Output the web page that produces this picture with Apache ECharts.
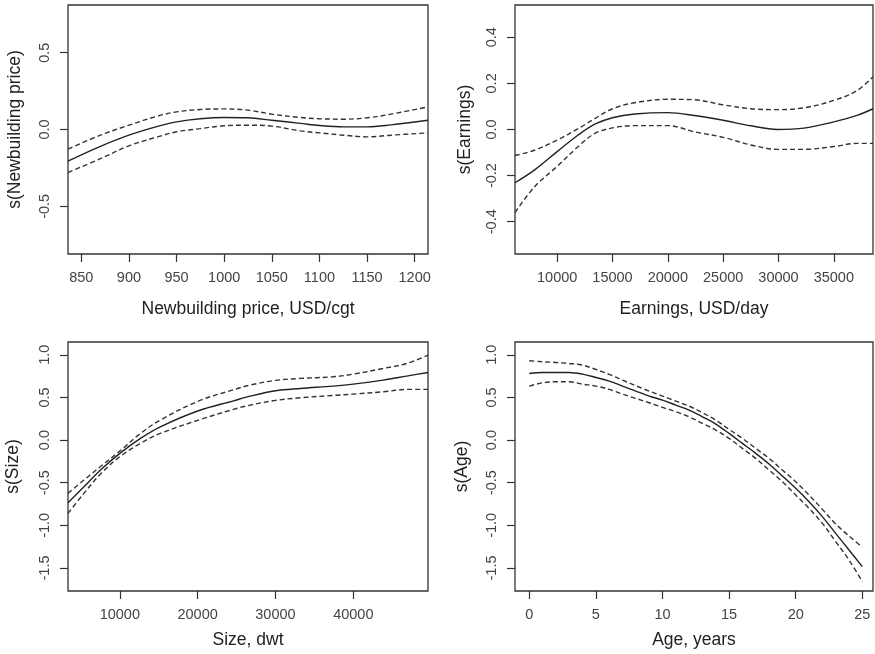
<!DOCTYPE html>
<html>
<head>
<meta charset="utf-8">
<script src="https://cdn.jsdelivr.net/npm/echarts@6/dist/echarts.min.js"></script>
<style>
html,body{margin:0;padding:0;background:#fff;}
#chart{width:875px;height:654px;}
</style>
</head>
<body>
<div id="chart"></div>
<script>
// ---- Panel 1: Newbuilding price ----
const priceX     = [836, 870, 900, 930, 950, 975, 1000, 1025, 1050, 1080, 1100, 1125, 1150, 1175, 1214];
const priceFit   = [-0.206, -0.11, -0.037, 0.02, 0.05, 0.07, 0.078, 0.076, 0.06, 0.04, 0.026, 0.017, 0.017, 0.03, 0.06];
const priceUpper = [-0.128, -0.037, 0.028, 0.087, 0.115, 0.13, 0.134, 0.126, 0.10, 0.078, 0.07, 0.067, 0.076, 0.10, 0.147];
const priceLower = [-0.28, -0.19, -0.106, -0.048, -0.015, 0.006, 0.024, 0.028, 0.022, -0.009, -0.022, -0.037, -0.048, -0.037, -0.022];
const priceXTicks = [850, 900, 950, 1000, 1050, 1100, 1150, 1200];
const priceYTicks = [-0.5, 0, 0.5];

// ---- Panel 2: Earnings ----
const earnX     = [6190, 8000, 10000, 11900, 13400, 15000, 17000, 20000, 22400, 25000, 27500, 29900, 32300, 35000, 37100, 38540];
const earnFit   = [-0.231, -0.174, -0.096, -0.024, 0.023, 0.051, 0.067, 0.073, 0.061, 0.04, 0.016, 0.0, 0.006, 0.033, 0.061, 0.09];
const earnUpper = [-0.113, -0.089, -0.046, 0.004, 0.047, 0.09, 0.116, 0.131, 0.129, 0.107, 0.09, 0.086, 0.094, 0.126, 0.169, 0.229];
const earnLower = [-0.36, -0.246, -0.16, -0.074, -0.017, 0.007, 0.017, 0.017, -0.01, -0.034, -0.067, -0.086, -0.086, -0.074, -0.06, -0.06];
const earnXTicks = [10000, 15000, 20000, 25000, 30000, 35000];
const earnYTicks = [-0.4, -0.2, 0, 0.2, 0.4];

// ---- Panel 3: Size ----
const sizeX     = [3340, 5385, 7520, 10000, 12650, 15200, 20100, 24600, 26750, 30000, 33200, 37400, 40000, 43850, 46850, 49600];
const sizeFit   = [-0.734, -0.547, -0.35, -0.156, 0.02, 0.156, 0.344, 0.46, 0.515, 0.578, 0.605, 0.633, 0.656, 0.703, 0.75, 0.793];
const sizeUpper = [-0.625, -0.469, -0.31, -0.129, 0.078, 0.234, 0.457, 0.59, 0.645, 0.70, 0.723, 0.742, 0.773, 0.84, 0.898, 0.996];
const sizeLower = [-0.86, -0.625, -0.398, -0.195, -0.039, 0.078, 0.234, 0.36, 0.41, 0.465, 0.496, 0.523, 0.539, 0.566, 0.594, 0.594];
const sizeXTicks = [10000, 20000, 30000, 40000];
const sizeYTicks = [-1.5, -1, -0.5, 0, 0.5, 1];

// ---- Panel 4: Age ----
const ageX     = [0, 1, 2, 3, 4, 5, 6, 7, 8, 9, 10, 11, 12, 13, 14, 15, 16, 17, 18, 19, 20, 21, 22, 23, 24, 25];
const ageFit   = [0.781, 0.793, 0.793, 0.793, 0.773, 0.734, 0.691, 0.633, 0.574, 0.516, 0.469, 0.41, 0.352, 0.273, 0.188, 0.078, -0.039, -0.156, -0.281, -0.422, -0.566, -0.723, -0.898, -1.094, -1.289, -1.484];
const ageUpper = [0.93, 0.918, 0.91, 0.898, 0.879, 0.828, 0.77, 0.703, 0.637, 0.574, 0.516, 0.457, 0.398, 0.32, 0.234, 0.125, 0.02, -0.098, -0.215, -0.352, -0.488, -0.645, -0.813, -0.984, -1.125, -1.258];
const ageLower = [0.633, 0.672, 0.684, 0.684, 0.656, 0.633, 0.594, 0.539, 0.488, 0.438, 0.383, 0.332, 0.273, 0.195, 0.117, 0.02, -0.098, -0.215, -0.352, -0.488, -0.645, -0.801, -0.977, -1.191, -1.406, -1.66];
const ageXTicks = [0, 5, 10, 15, 20, 25];
const ageYTicks = [-1.5, -1, -0.5, 0, 0.5, 1];

const panels = [
  {x: priceX, fit: priceFit, up: priceUpper, lo: priceLower, xt: priceXTicks, yt: priceYTicks,
   xr: [836, 1214], yr: [-0.81, 0.81], xname: 'Newbuilding price, USD/cgt', yname: 's(Newbuilding price)',
   grid: {left: 68, top: 5, width: 360, height: 249}, xgap: 46, ygap: 44},
  {x: earnX, fit: earnFit, up: earnUpper, lo: earnLower, xt: earnXTicks, yt: earnYTicks,
   xr: [6190, 38540], yr: [-0.54, 0.54], xname: 'Earnings, USD/day', yname: 's(Earnings)',
   grid: {left: 515, top: 5, width: 358, height: 249}, xgap: 46, ygap: 41},
  {x: sizeX, fit: sizeFit, up: sizeUpper, lo: sizeLower, xt: sizeXTicks, yt: sizeYTicks,
   xr: [3340, 49600], yr: [-1.77, 1.15], xname: 'Size, dwt', yname: 's(Size)',
   grid: {left: 68, top: 342, width: 360, height: 249}, xgap: 40, ygap: 46},
  {x: ageX, fit: ageFit, up: ageUpper, lo: ageLower, xt: ageXTicks, yt: ageYTicks,
   xr: [-1.07, 25.8], yr: [-1.77, 1.15], xname: 'Age, years', yname: 's(Age)',
   grid: {left: 515, top: 342, width: 358, height: 249}, xgap: 40, ygap: 44}
];

const FONT = '"Liberation Sans", Arial, sans-serif';
const grids = [], xAxes = [], yAxes = [], series = [];
const zip = (a, b) => a.map((v, i) => [v, b[i]]);

panels.forEach((p, i) => {
  grids.push(Object.assign({show: true, borderColor: '#333', borderWidth: 1.3, backgroundColor: 'transparent', containLabel: false}, p.grid));
  xAxes.push({
    type: 'value', gridIndex: i, min: p.xr[0], max: p.xr[1],
    name: p.xname, nameLocation: 'middle', nameGap: p.xgap,
    nameTextStyle: {fontFamily: FONT, fontSize: 17.5, color: '#222'},
    axisLine: {show: false, onZero: false}, splitLine: {show: false},
    axisTick: {show: true, inside: false, length: 8, customValues: p.xt, lineStyle: {color: '#333', width: 1.2}},
    axisLabel: {show: true, customValues: p.xt, margin: 16, fontFamily: FONT, fontSize: 14.5, color: '#444',
                formatter: v => String(v)}
  });
  yAxes.push({
    type: 'value', gridIndex: i, min: p.yr[0], max: p.yr[1],
    name: p.yname, nameLocation: 'middle', nameGap: p.ygap, nameRotate: 90,
    nameTextStyle: {fontFamily: FONT, fontSize: 17.5, color: '#222'},
    axisLine: {show: false, onZero: false}, splitLine: {show: false},
    axisTick: {show: true, inside: false, length: 8, customValues: p.yt, lineStyle: {color: '#333', width: 1.2}},
    axisLabel: {show: true, customValues: p.yt, rotate: 90, margin: 16, fontFamily: FONT, fontSize: 14.5, color: '#444',
                formatter: v => v.toFixed(1)}
  });
  const base = {type: 'line', xAxisIndex: i, yAxisIndex: i, showSymbol: false, smooth: 0.35, silent: true, animation: false};
  series.push(Object.assign({}, base, {data: zip(p.x, p.fit), lineStyle: {color: '#222', width: 1.4, type: 'solid'}}));
  series.push(Object.assign({}, base, {data: zip(p.x, p.up), lineStyle: {color: '#333', width: 1.4, type: [5, 3]}}));
  series.push(Object.assign({}, base, {data: zip(p.x, p.lo), lineStyle: {color: '#333', width: 1.4, type: [5, 3]}}));
});

const chart = echarts.init(document.getElementById('chart'), null, {renderer: 'canvas'});
chart.setOption({animation: false, backgroundColor: '#fff', grid: grids, xAxis: xAxes, yAxis: yAxes, series: series});
</script>
</body>
</html>
